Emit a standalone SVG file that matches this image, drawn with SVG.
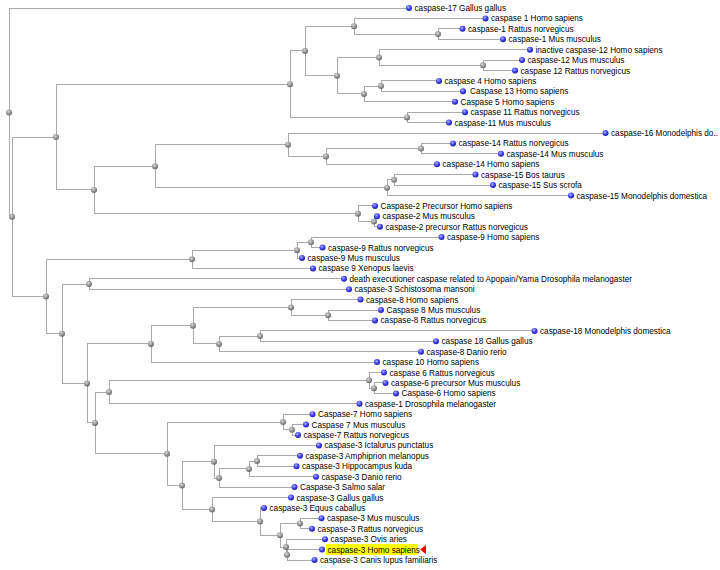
<svg xmlns="http://www.w3.org/2000/svg" width="720" height="570" viewBox="0 0 720 570">
<style>
.e{fill:none;stroke:#a9a9a9;stroke-width:1;shape-rendering:crispEdges}
.n{fill:url(#gg)}
.l{fill:url(#gb)}
.t{font-family:"Liberation Sans",Arial,sans-serif;font-size:8.2px;fill:#000}
</style>
<defs>
<radialGradient id="gg" cx="0.4" cy="0.35" r="0.7">
<stop offset="0" stop-color="#d8d8d8"/><stop offset="0.6" stop-color="#8e8e8e"/><stop offset="1" stop-color="#5e5e5e"/>
</radialGradient>
<radialGradient id="gb" cx="0.4" cy="0.35" r="0.7">
<stop offset="0" stop-color="#b0b0ff"/><stop offset="0.55" stop-color="#3c3cf0"/><stop offset="1" stop-color="#1a1a90"/>
</radialGradient>
</defs>
<rect width="720" height="570" fill="#fff"/>
<g id="connectors">
<path class="e" d="M9,112.4V8H409 M9,112.4V216.8H12"/>
<path class="e" d="M12,216.8V137.1H56 M12,216.8V296.5H46"/>
<path class="e" d="M56,137.1V84.2H290 M56,137.1V189.95H94"/>
<path class="e" d="M290,84.2V50.95H305 M290,84.2V117.4H407"/>
<path class="e" d="M305,50.95V26.2H354 M305,50.95V75.7H337"/>
<path class="e" d="M354,26.2V18.4H485.5 M354,26.2V34H438"/>
<path class="e" d="M438,34V28.8H462.5 M438,34V39.2H503"/>
<path class="e" d="M337,75.7V57.5H379 M337,75.7V93.9H364"/>
<path class="e" d="M379,57.5V49.7H530 M379,57.5V65.3H483"/>
<path class="e" d="M483,65.3V60.1H522 M483,65.3V70.5H515"/>
<path class="e" d="M364,93.9V86.1H381 M364,93.9V101.7H455"/>
<path class="e" d="M381,86.1V80.9H439 M381,86.1V91.3H463"/>
<path class="e" d="M407,117.4V112.2H465 M407,117.4V122.6H449"/>
<path class="e" d="M94,189.95V166.2H155 M94,189.95V213.7H358"/>
<path class="e" d="M155,166.2V144.7H288 M155,166.2V187.7H387"/>
<path class="e" d="M288,144.7V133H605.5 M288,144.7V156.4H326"/>
<path class="e" d="M326,156.4V148.6H421 M326,156.4V164.2H437"/>
<path class="e" d="M421,148.6V143.4H453 M421,148.6V153.8H501"/>
<path class="e" d="M387,187.7V179.85H394 M387,187.7V195.5H571"/>
<path class="e" d="M394,179.85V174.6H475.5 M394,179.85V185.1H493"/>
<path class="e" d="M358,213.7V205.9H375 M358,213.7V221.5H374"/>
<path class="e" d="M374,221.5V216.3H377 M374,221.5V226.7H380"/>
<path class="e" d="M46,296.5V259.3H192 M46,296.5V333.7H62"/>
<path class="e" d="M192,259.3V250.15H297 M192,259.3V268.4H313"/>
<path class="e" d="M297,250.15V242.3H311 M297,250.15V258H302"/>
<path class="e" d="M311,242.3V237.1H441.5 M311,242.3V247.5H322.5"/>
<path class="e" d="M62,333.7V284H89 M62,333.7V383.4H87"/>
<path class="e" d="M89,284V278.8H344 M89,284V289.2H349"/>
<path class="e" d="M87,383.4V343.9H151 M87,383.4V422.9H95"/>
<path class="e" d="M151,343.9V325.65H193 M151,343.9V362.1H377"/>
<path class="e" d="M193,325.65V307.4H291 M193,325.65V343.9H219"/>
<path class="e" d="M291,307.4V299.6H360.5 M291,307.4V315.2H328"/>
<path class="e" d="M328,315.2V310H381 M328,315.2V320.4H375"/>
<path class="e" d="M219,343.9V336.1H260 M219,343.9V351.7H421"/>
<path class="e" d="M260,336.1V330.9H534.5 M260,336.1V341.3H436"/>
<path class="e" d="M95,422.9V392.05H109 M95,422.9V453.8H167"/>
<path class="e" d="M109,392.05V380.3H369 M109,392.05V403.8H359.5"/>
<path class="e" d="M369,380.3V372.5H384 M369,380.3V388.15H374"/>
<path class="e" d="M374,388.15V382.9H385.5 M374,388.15V393.4H396"/>
<path class="e" d="M167,453.8V422H283 M167,453.8V485.6H182"/>
<path class="e" d="M283,422V414.2H312.5 M283,422V429.8H292"/>
<path class="e" d="M292,429.8V424.6H306 M292,429.8V435H298"/>
<path class="e" d="M182,485.6V461.7H214 M182,485.6V509.55H212"/>
<path class="e" d="M214,461.7V445.4H319 M214,461.7V478H219"/>
<path class="e" d="M219,478V468.9H249 M219,478V487.1H294.5"/>
<path class="e" d="M249,468.9V461.05H257 M249,468.9V476.7H316"/>
<path class="e" d="M257,461.05V455.8H300 M257,461.05V466.3H296.5"/>
<path class="e" d="M212,509.55V497.5H291 M212,509.55V521.6H260"/>
<path class="e" d="M260,521.6V507.9H264 M260,521.6V535.25H280"/>
<path class="e" d="M280,535.25V523.5H300 M280,535.25V547H286"/>
<path class="e" d="M300,523.5V518.3H321.5 M300,523.5V528.7H312"/>
<path class="e" d="M286,547V539.2H325 M286,547V554.8H287"/>
<path class="e" d="M287,554.8V549.6H322 M287,554.8V560H314.5"/>
</g>
<g id="n-root"><circle class="n" cx="9" cy="112.4" r="3"/></g>
<g id="n-a"><circle class="n" cx="12" cy="216.8" r="3"/></g>
<g id="n-b"><circle class="n" cx="56" cy="137.1" r="3"/></g>
<g id="n-c"><circle class="n" cx="290" cy="84.2" r="3"/></g>
<g id="n-d"><circle class="n" cx="305" cy="50.95" r="3"/></g>
<g id="n-e"><circle class="n" cx="354" cy="26.2" r="3"/></g>
<g id="n-f"><circle class="n" cx="438" cy="34" r="3"/></g>
<g id="n-g"><circle class="n" cx="337" cy="75.7" r="3"/></g>
<g id="n-h"><circle class="n" cx="379" cy="57.5" r="3"/></g>
<g id="n-h2"><circle class="n" cx="483" cy="65.3" r="3"/></g>
<g id="n-i"><circle class="n" cx="364" cy="93.9" r="3"/></g>
<g id="n-i2"><circle class="n" cx="381" cy="86.1" r="3"/></g>
<g id="n-j"><circle class="n" cx="407" cy="117.4" r="3"/></g>
<g id="n-k"><circle class="n" cx="94" cy="189.95" r="3"/></g>
<g id="n-l"><circle class="n" cx="155" cy="166.2" r="3"/></g>
<g id="n-m"><circle class="n" cx="288" cy="144.7" r="3"/></g>
<g id="n-m2"><circle class="n" cx="326" cy="156.4" r="3"/></g>
<g id="n-m3"><circle class="n" cx="421" cy="148.6" r="3"/></g>
<g id="n-o"><circle class="n" cx="387" cy="187.7" r="3"/></g>
<g id="n-o2"><circle class="n" cx="394" cy="179.85" r="3"/></g>
<g id="n-p"><circle class="n" cx="358" cy="213.7" r="3"/></g>
<g id="n-p2"><circle class="n" cx="374" cy="221.5" r="3"/></g>
<g id="n-q"><circle class="n" cx="46" cy="296.5" r="3"/></g>
<g id="n-r"><circle class="n" cx="192" cy="259.3" r="3"/></g>
<g id="n-s"><circle class="n" cx="297" cy="250.15" r="3"/></g>
<g id="n-t"><circle class="n" cx="311" cy="242.3" r="3"/></g>
<g id="n-u"><circle class="n" cx="62" cy="333.7" r="3"/></g>
<g id="n-v"><circle class="n" cx="89" cy="284" r="3"/></g>
<g id="n-w"><circle class="n" cx="87" cy="383.4" r="3"/></g>
<g id="n-x"><circle class="n" cx="151" cy="343.9" r="3"/></g>
<g id="n-y"><circle class="n" cx="193" cy="325.65" r="3"/></g>
<g id="n-z"><circle class="n" cx="291" cy="307.4" r="3"/></g>
<g id="n-2"><circle class="n" cx="328" cy="315.2" r="3"/></g>
<g id="n-3"><circle class="n" cx="219" cy="343.9" r="3"/></g>
<g id="n-4"><circle class="n" cx="260" cy="336.1" r="3"/></g>
<g id="n-7"><circle class="n" cx="95" cy="422.9" r="3"/></g>
<g id="n-8"><circle class="n" cx="109" cy="392.05" r="3"/></g>
<g id="n-9"><circle class="n" cx="369" cy="380.3" r="3"/></g>
<g id="n-9b"><circle class="n" cx="374" cy="388.15" r="3"/></g>
<g id="n-10"><circle class="n" cx="167" cy="453.8" r="3"/></g>
<g id="n-11"><circle class="n" cx="283" cy="422" r="3"/></g>
<g id="n-11b"><circle class="n" cx="292" cy="429.8" r="3"/></g>
<g id="n-12"><circle class="n" cx="182" cy="485.6" r="3"/></g>
<g id="n-13"><circle class="n" cx="214" cy="461.7" r="3"/></g>
<g id="n-14"><circle class="n" cx="219" cy="478" r="3"/></g>
<g id="n-15"><circle class="n" cx="249" cy="468.9" r="3"/></g>
<g id="n-15b"><circle class="n" cx="257" cy="461.05" r="3"/></g>
<g id="n-16"><circle class="n" cx="212" cy="509.55" r="3"/></g>
<g id="n-17"><circle class="n" cx="260" cy="521.6" r="3"/></g>
<g id="n-18"><circle class="n" cx="280" cy="535.25" r="3"/></g>
<g id="n-19"><circle class="n" cx="300" cy="523.5" r="3"/></g>
<g id="n-20"><circle class="n" cx="286" cy="547" r="3"/></g>
<g id="n-21"><circle class="n" cx="287" cy="554.8" r="3"/></g>
<g id="leaf-1"><circle class="l" cx="409" cy="8" r="3"/><text class="t" x="414.5" y="11">caspase-17 Gallus gallus</text></g>
<g id="leaf-2"><circle class="l" cx="485.5" cy="18.4" r="3"/><text class="t" x="491" y="21.4">caspase 1 Homo sapiens</text></g>
<g id="leaf-3"><circle class="l" cx="462.5" cy="28.8" r="3"/><text class="t" x="468" y="31.8">caspase-1 Rattus norvegicus</text></g>
<g id="leaf-4"><circle class="l" cx="503" cy="39.2" r="3"/><text class="t" x="508.5" y="42.2">caspase-1 Mus musculus</text></g>
<g id="leaf-5"><circle class="l" cx="530" cy="49.7" r="3"/><text class="t" x="535.5" y="52.7">inactive caspase-12 Homo sapiens</text></g>
<g id="leaf-6"><circle class="l" cx="522" cy="60.1" r="3"/><text class="t" x="527.5" y="63.1">caspase-12 Mus musculus</text></g>
<g id="leaf-7"><circle class="l" cx="515" cy="70.5" r="3"/><text class="t" x="520.5" y="73.5">caspase 12 Rattus norvegicus</text></g>
<g id="leaf-8"><circle class="l" cx="439" cy="80.9" r="3"/><text class="t" x="444.5" y="83.9">caspase 4 Homo sapiens</text></g>
<g id="leaf-9"><circle class="l" cx="463" cy="91.3" r="3"/><text class="t" x="470" y="94.3">Caspase 13 Homo sapiens</text></g>
<g id="leaf-10"><circle class="l" cx="455" cy="101.7" r="3"/><text class="t" x="460.5" y="104.7">Caspase 5 Homo sapiens</text></g>
<g id="leaf-11"><circle class="l" cx="465" cy="112.2" r="3"/><text class="t" x="470.5" y="115.2">caspase 11 Rattus norvegicus</text></g>
<g id="leaf-12"><circle class="l" cx="449" cy="122.6" r="3"/><text class="t" x="454.5" y="125.6">caspase-11 Mus musculus</text></g>
<g id="leaf-13"><circle class="l" cx="605.5" cy="133" r="3"/><text class="t" x="611" y="136">caspase-16 Monodelphis do..</text></g>
<g id="leaf-14"><circle class="l" cx="453" cy="143.4" r="3"/><text class="t" x="458.5" y="146.4">caspase-14 Rattus norvegicus</text></g>
<g id="leaf-15"><circle class="l" cx="501" cy="153.8" r="3"/><text class="t" x="506.5" y="156.8">caspase-14 Mus musculus</text></g>
<g id="leaf-16"><circle class="l" cx="437" cy="164.2" r="3"/><text class="t" x="442.5" y="167.2">caspase-14 Homo sapiens</text></g>
<g id="leaf-17"><circle class="l" cx="475.5" cy="174.6" r="3"/><text class="t" x="481" y="177.6">caspase-15 Bos taurus</text></g>
<g id="leaf-18"><circle class="l" cx="493" cy="185.1" r="3"/><text class="t" x="498.5" y="188.1">caspase-15 Sus scrofa</text></g>
<g id="leaf-19"><circle class="l" cx="571" cy="195.5" r="3"/><text class="t" x="576.5" y="198.5">caspase-15 Monodelphis domestica</text></g>
<g id="leaf-20"><circle class="l" cx="375" cy="205.9" r="3"/><text class="t" x="380.5" y="208.9">Caspase-2 Precursor Homo sapiens</text></g>
<g id="leaf-21"><circle class="l" cx="377" cy="216.3" r="3"/><text class="t" x="382.5" y="219.3">caspase-2 Mus musculus</text></g>
<g id="leaf-22"><circle class="l" cx="380" cy="226.7" r="3"/><text class="t" x="385.5" y="229.7">caspase-2 precursor Rattus norvegicus</text></g>
<g id="leaf-23"><circle class="l" cx="441.5" cy="237.1" r="3"/><text class="t" x="447" y="240.1">caspase-9 Homo sapiens</text></g>
<g id="leaf-24"><circle class="l" cx="322.5" cy="247.5" r="3"/><text class="t" x="328" y="250.5">caspase-9 Rattus norvegicus</text></g>
<g id="leaf-25"><circle class="l" cx="302" cy="258" r="3"/><text class="t" x="307.5" y="261">caspase-9 Mus musculus</text></g>
<g id="leaf-26"><circle class="l" cx="313" cy="268.4" r="3"/><text class="t" x="318.5" y="271.4">caspase 9 Xenopus laevis</text></g>
<g id="leaf-27"><circle class="l" cx="344" cy="278.8" r="3"/><text class="t" x="349.5" y="281.8">death executioner caspase related to Apopain/Yama Drosophila melanogaster</text></g>
<g id="leaf-28"><circle class="l" cx="349" cy="289.2" r="3"/><text class="t" x="354.5" y="292.2">caspase-3 Schistosoma mansoni</text></g>
<g id="leaf-29"><circle class="l" cx="360.5" cy="299.6" r="3"/><text class="t" x="366" y="302.6">caspase-8 Homo sapiens</text></g>
<g id="leaf-30"><circle class="l" cx="381" cy="310" r="3"/><text class="t" x="386.5" y="313">Caspase 8 Mus musculus</text></g>
<g id="leaf-31"><circle class="l" cx="375" cy="320.4" r="3"/><text class="t" x="380.5" y="323.4">caspase-8 Rattus norvegicus</text></g>
<g id="leaf-32"><circle class="l" cx="534.5" cy="330.9" r="3"/><text class="t" x="540" y="333.9">caspase-18 Monodelphis domestica</text></g>
<g id="leaf-33"><circle class="l" cx="436" cy="341.3" r="3"/><text class="t" x="441.5" y="344.3">caspase 18 Gallus gallus</text></g>
<g id="leaf-34"><circle class="l" cx="421" cy="351.7" r="3"/><text class="t" x="426.5" y="354.7">caspase-8 Danio rerio</text></g>
<g id="leaf-35"><circle class="l" cx="377" cy="362.1" r="3"/><text class="t" x="382.5" y="365.1">caspase 10 Homo sapiens</text></g>
<g id="leaf-36"><circle class="l" cx="384" cy="372.5" r="3"/><text class="t" x="389.5" y="375.5">caspase 6 Rattus norvegicus</text></g>
<g id="leaf-37"><circle class="l" cx="385.5" cy="382.9" r="3"/><text class="t" x="391" y="385.9">caspase-6 precursor Mus musculus</text></g>
<g id="leaf-38"><circle class="l" cx="396" cy="393.4" r="3"/><text class="t" x="401.5" y="396.4">Caspase-6 Homo sapiens</text></g>
<g id="leaf-39"><circle class="l" cx="359.5" cy="403.8" r="3"/><text class="t" x="365" y="406.8">caspase-1 Drosophila melanogaster</text></g>
<g id="leaf-40"><circle class="l" cx="312.5" cy="414.2" r="3"/><text class="t" x="318" y="417.2">Caspase-7 Homo sapiens</text></g>
<g id="leaf-41"><circle class="l" cx="306" cy="424.6" r="3"/><text class="t" x="311.5" y="427.6">Caspase 7 Mus musculus</text></g>
<g id="leaf-42"><circle class="l" cx="298" cy="435" r="3"/><text class="t" x="303.5" y="438">caspase-7 Rattus norvegicus</text></g>
<g id="leaf-43"><circle class="l" cx="319" cy="445.4" r="3"/><text class="t" x="324.5" y="448.4">caspase-3 Ictalurus punctatus</text></g>
<g id="leaf-44"><circle class="l" cx="300" cy="455.8" r="3"/><text class="t" x="305.5" y="458.8">caspase-3 Amphiprion melanopus</text></g>
<g id="leaf-45"><circle class="l" cx="296.5" cy="466.3" r="3"/><text class="t" x="302" y="469.3">caspase-3 Hippocampus kuda</text></g>
<g id="leaf-46"><circle class="l" cx="316" cy="476.7" r="3"/><text class="t" x="321.5" y="479.7">caspase-3 Danio rerio</text></g>
<g id="leaf-47"><circle class="l" cx="294.5" cy="487.1" r="3"/><text class="t" x="300" y="490.1">Caspase-3 Salmo salar</text></g>
<g id="leaf-48"><circle class="l" cx="291" cy="497.5" r="3"/><text class="t" x="296.5" y="500.5">caspase-3 Gallus gallus</text></g>
<g id="leaf-49"><circle class="l" cx="264" cy="507.9" r="3"/><text class="t" x="269.5" y="510.9">caspase-3 Equus caballus</text></g>
<g id="leaf-50"><circle class="l" cx="321.5" cy="518.3" r="3"/><text class="t" x="327" y="521.3">caspase-3 Mus musculus</text></g>
<g id="leaf-51"><circle class="l" cx="312" cy="528.7" r="3"/><text class="t" x="317.5" y="531.7">caspase-3 Rattus norvegicus</text></g>
<g id="leaf-52"><circle class="l" cx="325" cy="539.2" r="3"/><text class="t" x="330.5" y="542.2">caspase-3 Ovis aries</text></g>
<g id="leaf-53"><rect x="326" y="544" width="92" height="11" fill="#ffff00"/><polygon points="420,549.6 426,545 426,554.2" fill="#ff0000"/><circle class="l" cx="322" cy="549.6" r="3"/><text class="t" x="327.5" y="552.6">caspase-3 Homo sapiens</text></g>
<g id="leaf-54"><circle class="l" cx="314.5" cy="560" r="3"/><text class="t" x="320" y="563">caspase-3 Canis lupus familiaris</text></g>
</svg>
